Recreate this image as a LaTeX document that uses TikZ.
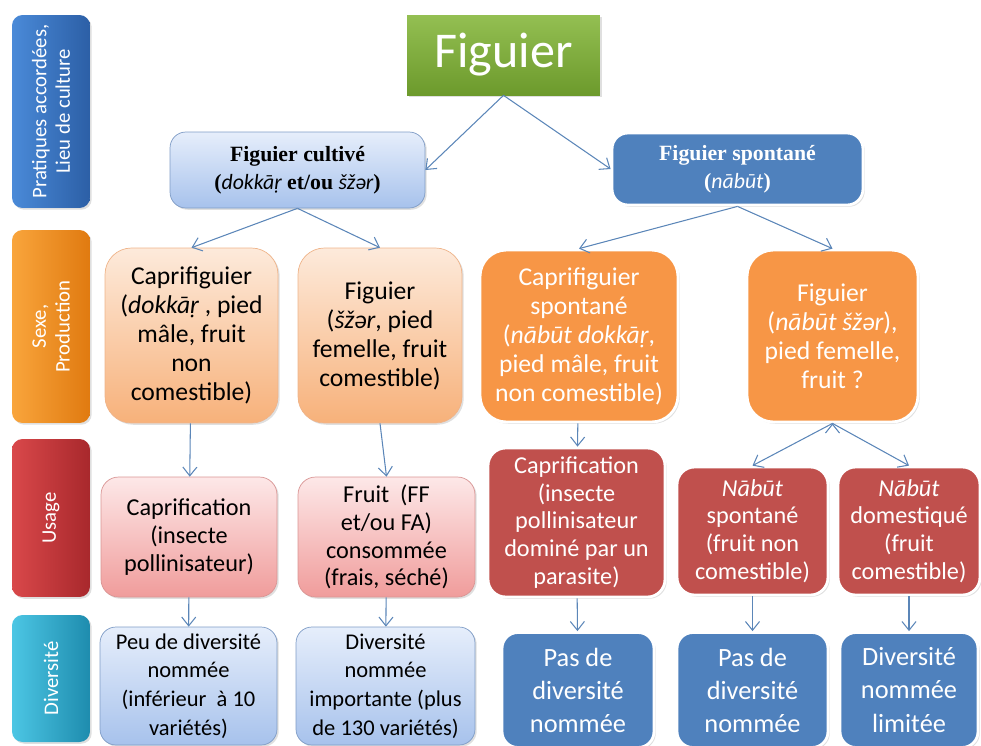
\documentclass[tikz,border=0pt]{standalone}
\usepackage{fontspec}
\setmainfont{Carlito}
\newfontfamily\headfont{Liberation Serif}
\usetikzlibrary{arrows.meta,shadows}

\definecolor{arrowblue}{HTML}{5B86B8}
\definecolor{figgreenA}{HTML}{94BF52}
\definecolor{figgreenB}{HTML}{6C9A2C}
\definecolor{lightblueA}{HTML}{E6EEFB}
\definecolor{lightblueB}{HTML}{A7C2EC}
\definecolor{lightblueD}{HTML}{7F9CC6}
\definecolor{darkblue}{HTML}{4F81BD}
\definecolor{lightorangeA}{HTML}{FDEADB}
\definecolor{lightorangeB}{HTML}{F7B17A}
\definecolor{lightorangeD}{HTML}{EFB48A}
\definecolor{orangefill}{HTML}{F79646}
\definecolor{pinkA}{HTML}{FDE8E8}
\definecolor{pinkB}{HTML}{F09C9B}
\definecolor{pinkD}{HTML}{D99594}
\definecolor{redfill}{HTML}{C0504D}
\definecolor{labblueA}{HTML}{4A8AD8}
\definecolor{labblueB}{HTML}{2C5FA6}
\definecolor{laborangeA}{HTML}{F9A53C}
\definecolor{laborangeB}{HTML}{E07A10}
\definecolor{labredA}{HTML}{D9484A}
\definecolor{labredB}{HTML}{A8282C}
\definecolor{labtealA}{HTML}{4CC6E4}
\definecolor{labtealB}{HTML}{1E8CAE}

\newcommand{\translit}[1]{{\normalfont\itshape #1}}

\begin{document}
\begin{tikzpicture}[x=0.02cm,y=-0.02cm,
  >={Straight Barb[length=5pt,width=8pt]},
  base node/.style={align=center,inner sep=0pt,
    drop shadow={opacity=0.25,shadow xshift=1pt,shadow yshift=-1pt}},
  side node/.style={base node,rotate=90,rounded corners=6pt,text=white,
    minimum height=1.56cm,font=\fontsize{11.8}{13.5}\selectfont},
  light node/.style={base node,rounded corners=9pt,draw=lightblueD,
    top color=lightblueA,bottom color=lightblueB},
  dark node/.style={base node,rounded corners=9pt,draw=white,line width=1.6pt,
    fill=darkblue,text=white},
  sex node/.style={base node,rounded corners=15pt,draw=lightorangeD,
    top color=lightorangeA,bottom color=lightorangeB,
    font=\fontsize{14.6}{16.5}\selectfont},
  wild sex node/.style={base node,rounded corners=15pt,draw=white,line width=1.6pt,
    fill=orangefill,text=white,font=\fontsize{14.6}{16.5}\selectfont},
  use node/.style={base node,rounded corners=10pt,draw=pinkD,
    top color=pinkA,bottom color=pinkB,font=\fontsize{13.8}{15.8}\selectfont},
  wild use node/.style={base node,rounded corners=10pt,draw=white,line width=1.6pt,
    fill=redfill,text=white,font=\fontsize{13.8}{15.8}\selectfont}]

  \useasboundingbox (0,0) rectangle (981,745);

  % colonne de gauche
  \node[side node,left color=labblueA,right color=labblueB,
    minimum width=3.86cm] (lab1) at (51,111.5) {Pratiques accordées,\\Lieu de culture};
  \node[side node,left color=laborangeA,right color=laborangeB,
    minimum width=3.86cm] (lab2) at (51,326.5) {Sexe,\\Production};
  \node[side node,left color=labredA,right color=labredB,
    minimum width=3.16cm] (lab3) at (51,518) {Usage};
  \node[side node,left color=labtealA,right color=labtealB,
    minimum width=2.54cm] (lab4) at (51,678.5) {Diversité};

  % racine
  \node[base node,top color=figgreenA,bottom color=figgreenB,
    text=white,minimum width=3.86cm,minimum height=1.6cm,
    font=\fontsize{28.5}{30}\selectfont] (fig) at (503.5,55) {Figuier};

  % pratiques
  \node[light node,minimum width=5.1cm,minimum height=1.52cm,
    font=\headfont\bfseries\fontsize{12.4}{16}\selectfont] (cult) at (297.5,170)
    {Figuier cultivé\\(\translit{dokkāṛ} et/ou \translit{šžər})};
  \node[dark node,minimum width=5.02cm,minimum height=1.44cm,
    font=\headfont\bfseries\fontsize{12.4}{16}\selectfont] (spont) at (737.5,169)
    {Figuier spontané\\(\translit{nābūt})};

  % sexe
  \node[sex node,minimum width=3.46cm,minimum height=3.5cm] (capri) at (191.5,335.5)
    {Caprifiguier\\(\translit{dokkāṛ} , pied\\mâle, fruit\\non\\comestible)};
  \node[sex node,minimum width=3.28cm,minimum height=3.5cm] (figc) at (380,335.5)
    {Figuier\\(\translit{šžər}, pied\\femelle, fruit\\comestible)};
  \node[wild sex node,minimum width=3.96cm,minimum height=3.44cm] (caprisp) at (579,336)
    {Caprifiguier\\spontané\\(\translit{nābūt dokkāṛ},\\pied mâle, fruit\\non comestible)};
  \node[wild sex node,minimum width=3.42cm,minimum height=3.44cm] (figsp) at (832.5,336)
    {Figuier\\(\translit{nābūt šžər}),\\pied femelle,\\fruit ?};

  % usage
  \node[use node,minimum width=3.52cm,minimum height=2.4cm] (caprif) at (189,537)
    {Caprification\\(insecte\\pollinisateur)};
  \node[use node,minimum width=3.54cm,minimum height=2.4cm] (fruit) at (386.5,537)
    {Fruit~~(FF\\et/ou FA)\\consommée\\(frais, séché)};
  \node[wild use node,minimum width=3.54cm,minimum height=2.98cm] (caprifsp) at (576.5,522.5)
    {Caprification\\(insecte\\pollinisateur\\dominé par un\\parasite)};
  \node[wild use node,minimum width=3.02cm,minimum height=2.56cm] (nsp) at (752.5,531)
    {\translit{Nābūt}\\spontané\\(fruit non\\comestible)};
  \node[wild use node,minimum width=2.84cm,minimum height=2.56cm] (ndom) at (909,531)
    {\translit{Nābūt}\\domestiqué\\(fruit\\comestible)};

  % diversite
  \node[light node,minimum width=3.54cm,minimum height=2.36cm,
    font=\fontsize{12.8}{16.3}\selectfont] (peu) at (188.5,686)
    {Peu de diversité\\nommée\\(inférieur~ à 10\\variétés)};
  \node[light node,minimum width=3.58cm,minimum height=2.36cm,
    font=\fontsize{12.8}{16.3}\selectfont] (imp) at (385.5,686)
    {Diversité\\nommée\\importante (plus\\de 130 variétés)};
  \node[dark node,minimum width=3.04cm,minimum height=2.3cm,
    font=\fontsize{15}{18.8}\selectfont] (pas1) at (578,690)
    {Pas de\\diversité\\nommée};
  \node[dark node,minimum width=3.02cm,minimum height=2.3cm,
    font=\fontsize{15}{18.8}\selectfont] (pas2) at (752.5,690)
    {Pas de\\diversité\\nommée};
  \node[dark node,minimum width=2.76cm,minimum height=2.3cm,
    font=\fontsize{15}{18.8}\selectfont] (lim) at (909,690)
    {Diversité\\nommée\\limitée};

  \path[->,draw=arrowblue,line width=0.6pt]
    (fig.south) edge (cult.east)
    (fig.south) edge (spont.west)
    (cult.south) edge (capri.north)
    (cult.south) edge (figc.north)
    (spont.south) edge (caprisp.north)
    (spont.south) edge (figsp.north)
    (capri) edge (caprif)
    (figc.south) edge (fruit.north)
    (caprisp) edge (caprifsp)
    (figsp.south) edge (nsp.north)
    (figsp.south) edge (ndom.north)
    (caprif) edge (peu)
    (fruit) edge (imp)
    (caprifsp) edge (pas1)
    (nsp) edge (pas2)
    (ndom) edge (lim);
\end{tikzpicture}
\end{document}
